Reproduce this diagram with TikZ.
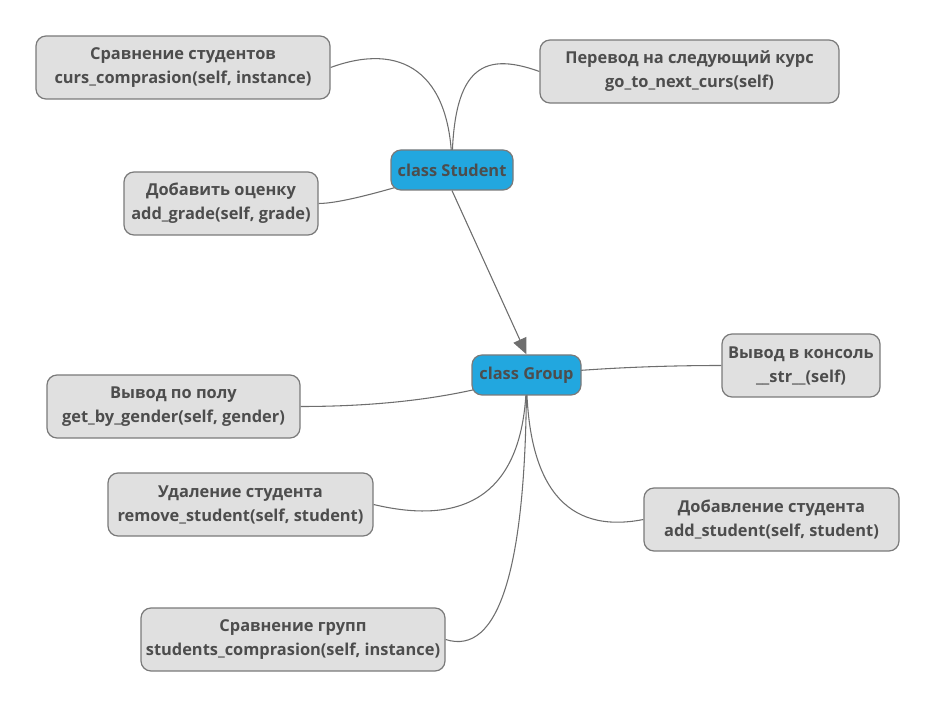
\documentclass[tikz,border=0pt]{standalone}
\usepackage{fontspec}
\setmainfont{Open Sans}
\usetikzlibrary{arrows.meta}
\definecolor{txt}{RGB}{77,77,77}
\definecolor{leaffill}{RGB}{224,224,224}
\definecolor{bord}{RGB}{122,122,122}
\definecolor{rootfill}{RGB}{34,167,223}
\definecolor{edgec}{RGB}{110,110,110}
\pgfdeclarelayer{bg}
\pgfsetlayers{bg,main}
\tikzset{
  leaf/.style={draw=bord, line width=0.9pt, fill=leaffill, rounded corners=7.5pt,
    minimum height=47.25pt, inner sep=0pt, align=center, text=txt,
    font=\fontsize{12.3}{18}\selectfont\bfseries},
  cls/.style={draw=bord, line width=0.9pt, fill=rootfill, rounded corners=7.5pt,
    minimum height=30pt, inner sep=0pt, align=center, text=txt,
    font=\fontsize{12.3}{18}\selectfont\bfseries},
  edge/.style={draw=edgec, line width=0.8pt},
}
\begin{document}
\begin{tikzpicture}[x=0.75pt,y=-0.75pt]
\useasboundingbox (0,0) rectangle (936,709);
% nodes
\node[cls, minimum width=91.5pt] (stud) at (452,170) {class Student};
\node[cls, minimum width=81.75pt] (grp) at (526.5,375) {class Group};
\node[leaf, minimum width=220.5pt] (s1) at (183,67.5) {Сравнение студентов\\curs\_comprasion(self, instance)};
\node[leaf, minimum width=224.25pt] (s2) at (689.5,71.5) {Перевод на следующий курс\\go\_to\_next\_curs(self)};
\node[leaf, minimum width=145.5pt] (s3) at (221,203.5) {Добавить оценку\\add\_grade(self, grade)};
\node[leaf, minimum width=118.5pt] (g1) at (801,365.5) {Вывод в консоль\\\_\_str\_\_(self)};
\node[leaf, minimum width=189.75pt] (g2) at (173.5,406.5) {Вывод по полу\\get\_by\_gender(self, gender)};
\node[leaf, minimum width=198.75pt] (g3) at (240.5,504.5) {Удаление студента\\remove\_student(self, student)};
\node[leaf, minimum width=191.25pt] (g4) at (771.5,519.5) {Добавление студента\\add\_student(self, student)};
\node[leaf, minimum width=228pt] (g5) at (293,639.5) {Сравнение групп\\students\_comprasion(self, instance)};
% edges (drawn behind the nodes)
\begin{pgfonlayer}{bg}
\draw[edge] (stud.center) .. controls (452,70) and (400,42) .. (s1.east);
\draw[edge] (stud.center) .. controls (452,70) and (480,50) .. (s2.west);
\draw[edge] (stud.center) .. controls (384,192) and (339,203.5) .. (s3.east);
\draw[edge] (grp.center) .. controls (588.8,368.7) and (654,365.5) .. (g1.west);
\draw[edge] (grp.center) .. controls (465.5,396) and (390,406.5) .. (g2.east);
\draw[edge] (grp.center) .. controls (526.5,485) and (475,528.7) .. (g3.east);
\draw[edge] (grp.center) .. controls (526.5,486) and (565.7,534.7) .. (g4.west);
\draw[edge] (grp.center) .. controls (526.5,568) and (499,656.5) .. (g5.east);
\end{pgfonlayer}
\draw[edge, -{Triangle[length=12pt,width=10.5pt]}, fill=edgec] (stud.south) -- (grp.north);
\end{tikzpicture}
\end{document}
